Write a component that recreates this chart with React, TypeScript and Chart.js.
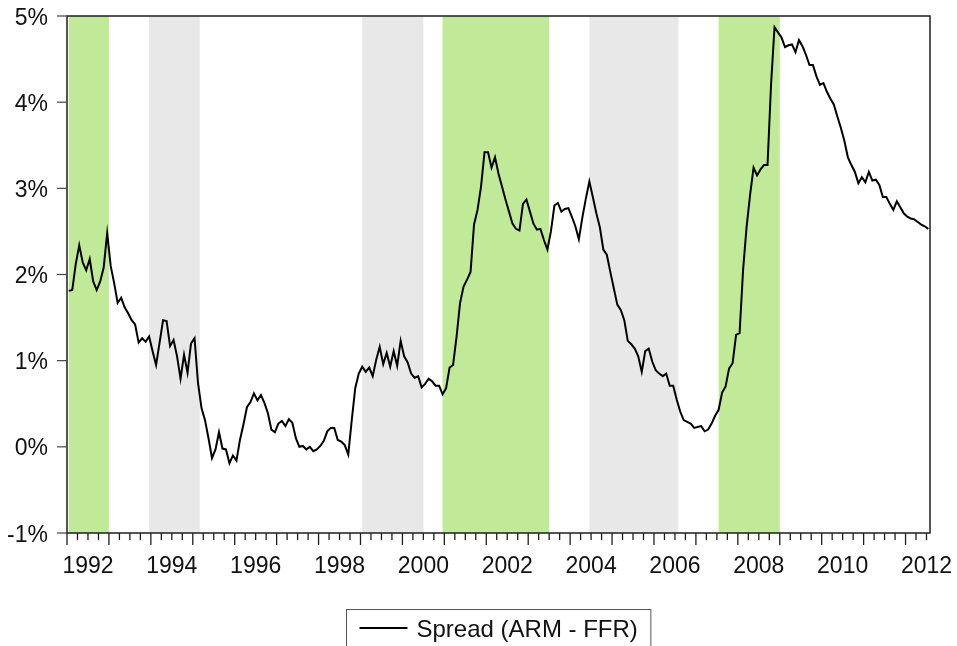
import React, { useEffect, useRef } from "react";
import { Chart, registerables } from "chart.js";

Chart.register(...registerables);

// Monthly spread (ARM rate minus federal funds rate), %, Jan 1992 onward
const START_YEAR = 1992;
const SPREAD: number[] = [
  1.81, 1.82, 2.12, 2.34, 2.14, 2.05, 2.18, 1.92, 1.82, 1.92, 2.08, 2.48,
  2.10, 1.90, 1.67, 1.73, 1.62, 1.55, 1.47, 1.42, 1.21, 1.26, 1.22, 1.28,
  1.11, 0.95, 1.21, 1.47, 1.46, 1.17, 1.24, 1.05, 0.79, 1.07, 0.86, 1.20,
  1.26, 0.74, 0.45, 0.31, 0.10, -0.13, -0.03, 0.17, -0.02, -0.03, -0.19, -0.10,
  -0.16, 0.08, 0.26, 0.46, 0.52, 0.62, 0.54, 0.60, 0.51, 0.39, 0.20, 0.17,
  0.27, 0.30, 0.24, 0.32, 0.28, 0.10, 0.00, 0.01, -0.03, 0.00, -0.05, -0.03,
  0.01, 0.07, 0.18, 0.22, 0.22, 0.08, 0.06, 0.02, -0.09, 0.31, 0.68, 0.85,
  0.93, 0.87, 0.92, 0.82, 1.01, 1.16, 0.96, 1.09, 0.93, 1.11, 0.94, 1.23,
  1.05, 0.98, 0.85, 0.80, 0.82, 0.69, 0.73, 0.79, 0.76, 0.71, 0.71, 0.61,
  0.68, 0.92, 0.95, 1.28, 1.67, 1.86, 1.94, 2.03, 2.58, 2.75, 3.02, 3.42,
  3.42, 3.24, 3.36, 3.17, 3.02, 2.87, 2.73, 2.59, 2.53, 2.51, 2.82, 2.87,
  2.73, 2.59, 2.52, 2.53, 2.40, 2.29, 2.50, 2.80, 2.83, 2.73, 2.76, 2.77,
  2.67, 2.56, 2.41, 2.66, 2.88, 3.08, 2.90, 2.71, 2.55, 2.29, 2.23, 2.03,
  1.84, 1.65, 1.59, 1.47, 1.23, 1.19, 1.14, 1.05, 0.87, 1.11, 1.14, 0.99,
  0.89, 0.85, 0.82, 0.85, 0.71, 0.71, 0.55, 0.41, 0.31, 0.29, 0.27, 0.22,
  0.23, 0.24, 0.18, 0.20, 0.27, 0.36, 0.43, 0.63, 0.70, 0.91, 0.97, 1.30,
  1.32, 2.05, 2.55, 2.92, 3.24, 3.15, 3.22, 3.27, 3.27, 4.20, 4.87, 4.81,
  4.75, 4.64, 4.66, 4.67, 4.58, 4.72, 4.65, 4.55, 4.43, 4.43, 4.30, 4.20,
  4.22, 4.12, 4.04, 3.97, 3.83, 3.70, 3.55, 3.36, 3.27, 3.19, 3.06, 3.13,
  3.07, 3.19, 3.09, 3.10, 3.04, 2.90, 2.90, 2.82, 2.75, 2.85, 2.78, 2.71,
  2.67, 2.65, 2.64, 2.61, 2.58, 2.56, 2.53,
];

const MONTHS: string[] = SPREAD.map((_, i) => {
  const yr = START_YEAR + Math.floor(i / 12);
  const mo = (i % 12) + 1;
  return `${yr}-${String(mo).padStart(2, "0")}`;
});

const Y_TICKS = [-1, 0, 1, 2, 3, 4, 5];
const X_LABEL_YEARS = [1992, 1994, 1996, 1998, 2000, 2002, 2004, 2006, 2008, 2010, 2012];

const GREEN_PERIODS: [string, string][] = [
  ["1992-01", "1992-12"],
  ["2000-12", "2003-06"],
  ["2007-07", "2008-12"],
];
const GRAY_PERIODS: [string, string][] = [
  ["1993-12", "1995-02"],
  ["1999-01", "2000-06"],
  ["2004-06", "2006-07"],
];

const SERIES_LABEL = "Spread (ARM - FFR)";

const FONT = "'Liberation Sans', Arial, Helvetica, sans-serif";
const GREEN = "#C0EA98";
const GRAY = "#E8E8E8";
const AXIS = "#1e1e1e";

const eviewsPlugin = {
  id: "eviewsDecor",
  beforeDatasetsDraw(chart: any) {
    const { ctx, chartArea: a, scales } = chart;
    const x = scales.x;
    const bw = x.getPixelForValue(1) - x.getPixelForValue(0);
    ctx.save();
    ctx.beginPath();
    ctx.rect(a.left, a.top, a.right - a.left, a.bottom - a.top);
    ctx.clip();
    const bands = (periods: [string, string][], color: string) => {
      ctx.fillStyle = color;
      for (const [s, e] of periods) {
        const si = MONTHS.indexOf(s);
        const ei = MONTHS.indexOf(e);
        const l = x.getPixelForValue(si);
        const r = x.getPixelForValue(ei) + bw / 2;
        ctx.fillRect(l, a.top, r - l, a.bottom - a.top);
      }
    };
    bands(GRAY_PERIODS, GRAY);
    bands(GREEN_PERIODS, GREEN);
    ctx.restore();
  },
  afterDraw(chart: any) {
    const { ctx, chartArea: a, scales } = chart;
    const x = scales.x;
    const y = scales.y;
    const bw = x.getPixelForValue(1) - x.getPixelForValue(0);
    ctx.save();

    // frame
    ctx.strokeStyle = AXIS;
    ctx.lineWidth = 1.5;
    ctx.strokeRect(a.left, a.top, a.right - a.left, a.bottom - a.top);

    // y ticks + labels
    ctx.fillStyle = "#111";
    ctx.font = `23px ${FONT}`;
    ctx.textAlign = "right";
    ctx.textBaseline = "alphabetic";
    ctx.lineWidth = 1.2;
    ctx.strokeStyle = "#444";
    for (const v of Y_TICKS) {
      const py = y.getPixelForValue(v);
      ctx.beginPath();
      ctx.moveTo(a.left - 10, py);
      ctx.lineTo(a.left, py);
      ctx.stroke();
      ctx.fillText(`${v}%`, a.left - 19, py + 8.5);
    }

    // x ticks (quarters minor, years major)
    ctx.strokeStyle = AXIS;
    ctx.lineWidth = 1.3;
    const n = SPREAD.length;
    for (let i = 0; i <= n; i += 3) {
      const px = x.getPixelForValue(i) - bw / 2;
      if (px > a.right + 0.5) break;
      const len = i % 12 === 0 ? 12 : 7;
      ctx.beginPath();
      ctx.moveTo(px, a.bottom);
      ctx.lineTo(px, a.bottom + len);
      ctx.stroke();
    }

    // x labels, centred on each labelled year
    ctx.textAlign = "center";
    for (const yr of X_LABEL_YEARS) {
      const i0 = (yr - START_YEAR) * 12;
      const px = x.getPixelForValue(i0 + 5.5);
      ctx.fillText(String(yr), px, 573);
    }

    // legend box
    ctx.font = `24px ${FONT}`;
    const tw = ctx.measureText(SERIES_LABEL).width;
    const boxW = 13 + 48 + 9 + tw + 13;
    const cx = (a.left + a.right) / 2;
    const bl = Math.round(cx - boxW / 2) + 0.5;
    ctx.strokeStyle = "#555";
    ctx.lineWidth = 1;
    ctx.strokeRect(bl, 609.5, boxW, 60);
    ctx.strokeStyle = "#000";
    ctx.lineWidth = 2;
    ctx.beginPath();
    ctx.moveTo(bl + 13, 628);
    ctx.lineTo(bl + 61, 628);
    ctx.stroke();
    ctx.textAlign = "left";
    ctx.fillStyle = "#111";
    ctx.fillText(SERIES_LABEL, bl + 70, 637);

    ctx.restore();
  },
};

export default function App() {
  const ref = useRef<HTMLCanvasElement | null>(null);
  useEffect(() => {
    if (!ref.current) return;
    const chart = new Chart(ref.current, {
      type: "line",
      data: {
        labels: MONTHS,
        datasets: [
          {
            label: SERIES_LABEL,
            data: SPREAD,
            borderColor: "#000",
            borderWidth: 2,
            pointRadius: 0,
            tension: 0,
            fill: false,
          },
        ],
      },
      options: {
        animation: false,
        responsive: false,
        devicePixelRatio: 1,
        layout: { padding: { left: 67, right: 27, top: 16, bottom: 113 } },
        plugins: { legend: { display: false }, tooltip: { enabled: false } },
        scales: {
          x: { type: "category", display: false, offset: true },
          y: { type: "linear", display: false, min: -1, max: 5 },
        },
      },
      plugins: [eviewsPlugin],
    });
    return () => chart.destroy();
  }, []);
  return (
    <div style={{ position: "fixed", left: 0, top: 0, width: 957, height: 646, background: "#fff" }}>
      <canvas ref={ref} width={957} height={646} style={{ width: 957, height: 646, display: "block" }} />
    </div>
  );
}
